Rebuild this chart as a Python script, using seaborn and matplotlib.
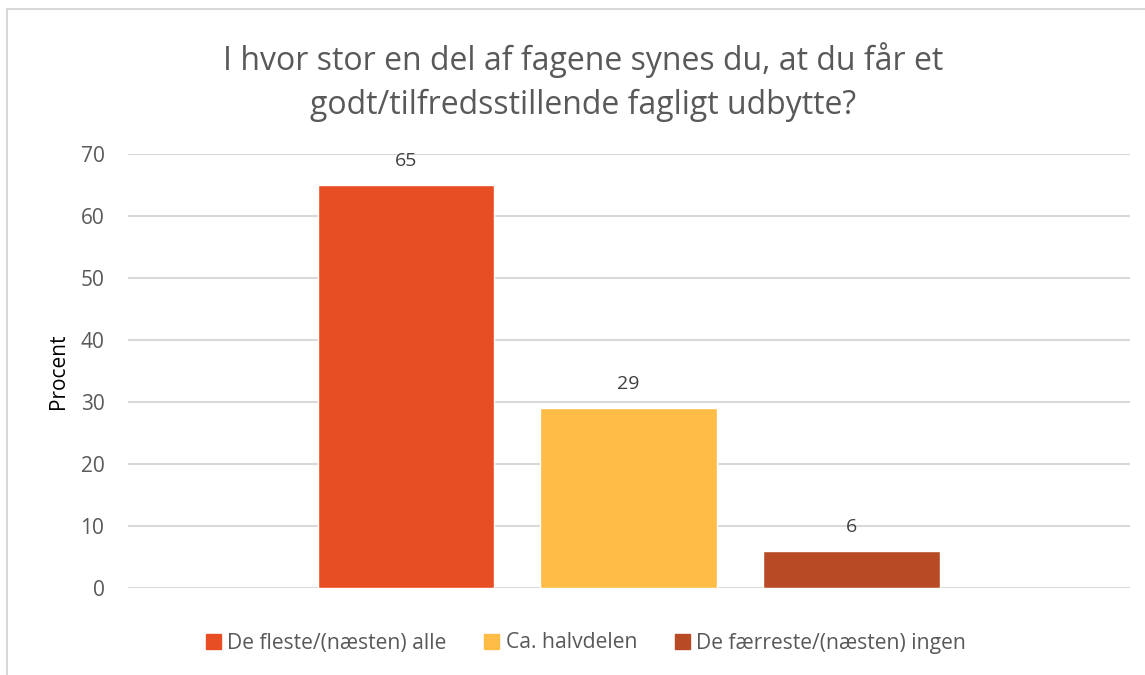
import matplotlib
matplotlib.use("Agg")
import matplotlib.pyplot as plt
import matplotlib.patches as mpatches
import seaborn as sns
import pandas as pd

# --- DATA ---
TITLE = "I hvor stor en del af fagene synes du, at du får et\ngodt/tilfredsstillende fagligt udbytte?"
categories = ["De fleste/(næsten) alle", "Ca. halvdelen", "De færreste/(næsten) ingen"]
values = [65, 29, 6]
colors = ["#E84E24", "#FFBC47", "#B84B26"]
y_ticks = [0, 10, 20, 30, 40, 50, 60, 70]

TEXT_GREY = "#595959"
GRID_GREY = "#D9D9D9"

sns.set_theme(style="white")
plt.rcParams['font.family'] = ['Open Sans', 'DejaVu Sans']

df = pd.DataFrame({"kategori": categories, "procent": values})

fig = plt.figure(figsize=(11.45, 6.75), dpi=100)
ax = fig.add_axes([128 / 1145, 1 - 588 / 675, (1130 - 128) / 1145, (588 - 154) / 675])

sns.barplot(data=df, x="kategori", y="procent", hue="kategori", order=categories,
            hue_order=categories, palette=colors, width=0.79, dodge=False,
            legend=False, saturation=1, ax=ax)

# data labels
for p, v in zip(ax.patches, values):
    ax.annotate(f"{v}", (p.get_x() + p.get_width() / 2, p.get_height()),
                ha="center", va="bottom", xytext=(0, 11), textcoords="offset points",
                fontsize=14, color="#404040")

ax.set_xlim(-1.245, 3.249)
ax.set_ylim(0, 70)
ax.set_yticks(y_ticks)
ax.set_yticklabels([str(t) for t in y_ticks], fontsize=15, color=TEXT_GREY)
ax.tick_params(axis="y", length=0, pad=17)
ax.set_xticks([])
ax.set_xlabel("")
ax.set_ylabel("Procent", fontsize=15, color="black", labelpad=8)
ax.yaxis.grid(True, color=GRID_GREY, linewidth=1.5)
ax.set_axisbelow(True)
for s in ax.spines.values():
    s.set_visible(False)

fig.text(583 / 1145, 1 - 82 / 675, TITLE, ha="center", va="center", fontsize=23,
         color=TEXT_GREY, linespacing=1.45)

# legend
handles = [mpatches.Patch(color=c, label=l) for c, l in zip(colors, categories)]
fig.legend(handles=handles, loc="center", bbox_to_anchor=(586 / 1145, 1 - 643 / 675), ncol=3,
           frameon=False, fontsize=15.2, labelcolor=TEXT_GREY, handlelength=0.7,
           handleheight=0.7, handletextpad=0.3, columnspacing=1.8)

# chart frame
frame = mpatches.Rectangle((7 / 1145, -0.1), 2, (675 - 9) / 675 + 0.1, transform=fig.transFigure,
                           fill=False, edgecolor=GRID_GREY, linewidth=1.5)
fig.patches.append(frame)

fig.savefig("out.png", dpi=100)
